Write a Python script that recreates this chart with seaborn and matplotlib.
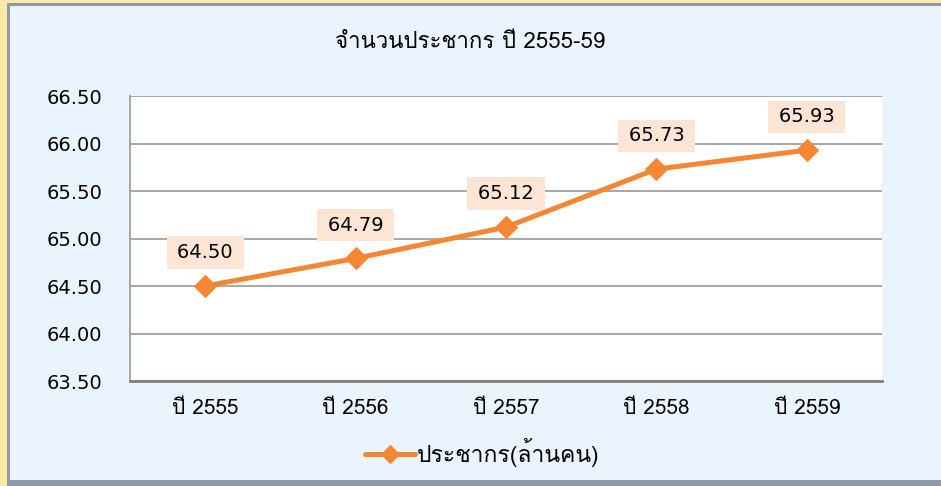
import numpy as np
import pandas as pd
import matplotlib
matplotlib.use("Agg")
import matplotlib.pyplot as plt
import matplotlib.patches as mpatches
from matplotlib import font_manager
import seaborn as sns

# data
years = ["ปี 2555", "ปี 2556", "ปี 2557", "ปี 2558", "ปี 2559"]
population = [64.50, 64.79, 65.12, 65.73, 65.93]
series_name = "ประชากร(ล้านคน)"
title = "จำนวนประชากร ปี 2555-59"

df = pd.DataFrame({"year": years, "pop": population})

sns.set_style("white")

# find an installed font that has thai glyphs
thai_font = None
for f in font_manager.fontManager.ttflist:
    try:
        if 0x0E1B in font_manager.get_font(f.fname).get_charmap():
            thai_font = f.name
            break
    except Exception:
        pass
fams = ([thai_font] if thai_font else []) + ["DejaVu Sans"]
plt.rcParams["font.family"] = fams
plt.rcParams["text.color"] = "black"
plt.rcParams["xtick.color"] = "black"
plt.rcParams["ytick.color"] = "black"

orange = "#F58634"
grid_c = "#A0A0A0"

fig = plt.figure(figsize=(9.41, 4.86), dpi=100)
fig.patch.set_facecolor("#FEE9A6")

# chart area with bevel
fig.patches.append(mpatches.Rectangle((7 / 941, 0), 1, 1 - 3 / 486, transform=fig.transFigure,
                                      facecolor="#8F9AA8", edgecolor="none", zorder=-2))
fig.patches.append(mpatches.Rectangle((10 / 941, 6 / 486), 1, 1 - 12 / 486,
                                      transform=fig.transFigure,
                                      facecolor="#EAF4FE", edgecolor="none", zorder=-1))

ax = fig.add_axes([130 / 941, 1 - 381 / 486, 752 / 941, 285 / 486])
ax.set_facecolor("white")

sns.lineplot(data=df, x="year", y="pop", ax=ax, color=orange, lw=3.6,
             marker="D", markersize=11, markeredgecolor=orange, label=series_name,
             sort=False)

for i, v in enumerate(population):
    ax.annotate(f"\u2009{v:.2f}\u2009", (i, v), xytext=(0, 24), textcoords="offset points",
                ha="center", va="center", fontsize=14, family="DejaVu Sans",
                bbox=dict(boxstyle="square,pad=0.35", fc="#FDE5D5", ec="none"))

ax.set_xlim(-0.5, 4.5)
ax.set_ylim(63.5, 66.5)
ax.set_yticks(np.arange(63.5, 66.51, 0.5))
ax.set_yticklabels([f"{t:.2f}" for t in np.arange(63.5, 66.51, 0.5)], family="DejaVu Sans")
ax.yaxis.grid(True, color=grid_c, lw=1.3)
ax.tick_params(axis="both", length=0, labelsize=14)
ax.tick_params(axis="y", pad=20)
ax.tick_params(axis="x", pad=13, labelsize=15)
ax.set_xlabel("")
ax.set_ylabel("")
for s in ["top", "right"]:
    ax.spines[s].set_visible(False)
ax.spines["left"].set_color(grid_c)
ax.spines["left"].set_linewidth(1.3)
ax.spines["bottom"].set_color("#7F7F7F")
ax.spines["bottom"].set_linewidth(2)

fig.text(0.5, 1 - 42 / 486, title, ha="center", va="center", fontsize=16)

leg = ax.legend(loc="center", bbox_to_anchor=(0.468, -0.25), frameon=False,
                fontsize=16.5, handlelength=2.2, handletextpad=0.05, markerscale=0.8)

plt.savefig("out.png", dpi=100, facecolor=fig.get_facecolor())
